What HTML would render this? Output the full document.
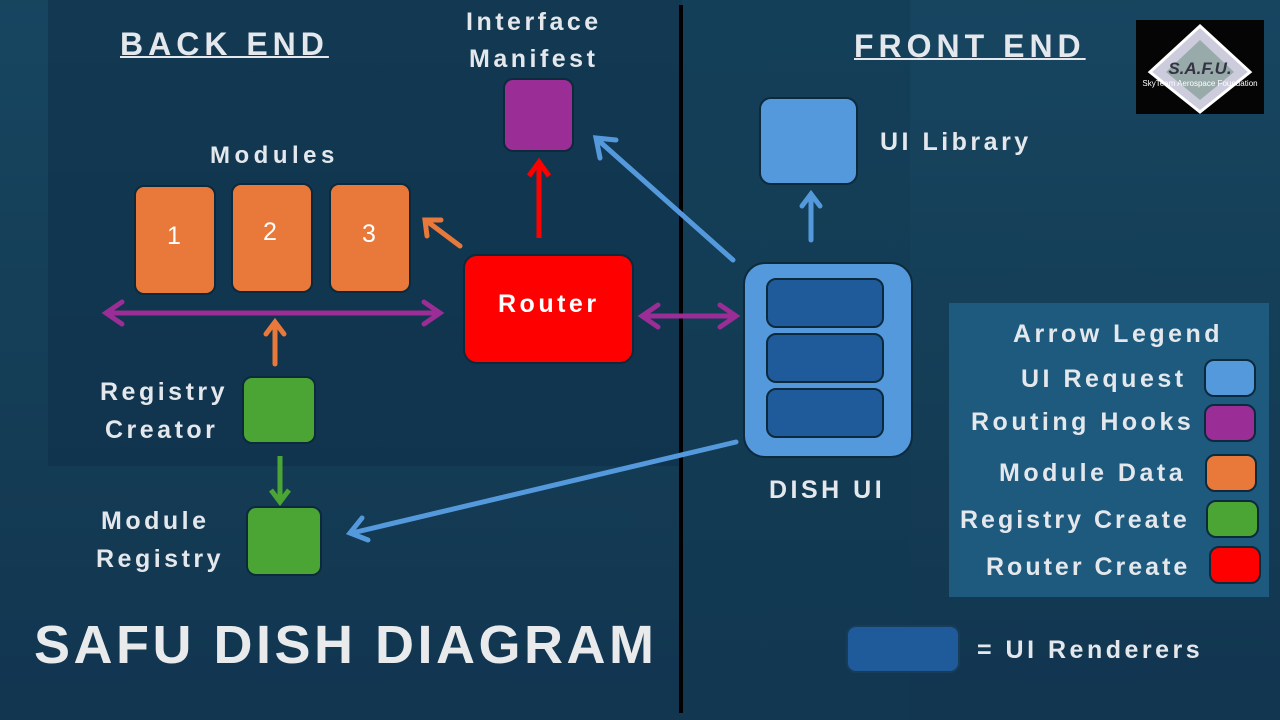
<!DOCTYPE html>
<html><head><style>
body{margin:0;width:1280px;height:720px;overflow:hidden;background:linear-gradient(180deg,#174560 0%,#143c55 60%,#123550 100%);font-family:"Liberation Sans",sans-serif;position:relative}
.a{position:absolute}
.t{position:absolute;color:#e4e8ec;font-weight:bold;font-size:25px;white-space:nowrap;letter-spacing:3.5px}
.b{position:absolute;border:2px solid #0c2a3c;border-radius:10px;box-sizing:border-box}
.o{background:#e8793a}.g{background:#4aa535}.p{background:#9b2d96}.r{background:#fe0000}.lb{background:#5599dd}.db{background:#1f5b9b}
</style></head><body>
<div class="a" style="left:48px;top:0;width:634px;height:466px;background:#0f3149;opacity:.6"></div>
<div class="a" style="left:680px;top:0;width:230px;height:720px;background:#123a52;opacity:.5"></div>
<div class="a" style="left:679px;top:5px;width:4px;height:708px;background:#000"></div>

<div class="t" style="left:120px;top:26px;font-size:32px;letter-spacing:5px;text-decoration:underline;text-decoration-thickness:2px">BACK END</div>
<div class="t" style="left:854px;top:28px;font-size:32px;letter-spacing:5px;text-decoration:underline;text-decoration-thickness:2px">FRONT END</div>
<div class="t" style="left:466px;top:8px">Interface</div>
<div class="t" style="left:469px;top:45px">Manifest</div>
<div class="t" style="left:210px;top:142px;font-size:24px;letter-spacing:4.5px">Modules</div>
<div class="t" style="left:880px;top:128px">UI Library</div>
<div class="t" style="left:100px;top:378px">Registry</div>
<div class="t" style="left:105px;top:416px">Creator</div>
<div class="t" style="left:101px;top:507px">Module</div>
<div class="t" style="left:96px;top:545px">Registry</div>
<div class="t" style="left:769px;top:476px">DISH UI</div>
<div class="t" style="left:34px;top:614px;font-size:54px;letter-spacing:3.5px;color:#e8eaec">SAFU DISH DIAGRAM</div>
<div class="t" style="left:977px;top:636px">= UI Renderers</div>

<div class="b p" style="left:503px;top:78px;width:71px;height:74px"></div>
<div class="b lb" style="left:759px;top:97px;width:99px;height:88px;border-radius:12px"></div>
<div class="b o" style="left:134px;top:185px;width:82px;height:110px"></div>
<div class="b o" style="left:231px;top:183px;width:82px;height:110px"></div>
<div class="b o" style="left:329px;top:183px;width:82px;height:110px"></div>
<div class="t" style="left:167px;top:222px;font-weight:normal;color:#fff">1</div>
<div class="t" style="left:263px;top:218px;font-weight:normal;color:#fff">2</div>
<div class="t" style="left:362px;top:220px;font-weight:normal;color:#fff">3</div>
<div class="b r" style="left:463px;top:254px;width:171px;height:110px;border-radius:14px"></div>
<div class="t" style="left:498px;top:290px;color:#fff">Router</div>
<div class="b g" style="left:242px;top:376px;width:74px;height:68px"></div>
<div class="b g" style="left:246px;top:506px;width:76px;height:70px"></div>
<div class="b lb" style="left:743px;top:262px;width:170px;height:196px;border-radius:22px"></div>
<div class="b db" style="left:766px;top:278px;width:118px;height:50px"></div>
<div class="b db" style="left:766px;top:333px;width:118px;height:50px"></div>
<div class="b db" style="left:766px;top:388px;width:118px;height:50px"></div>
<div class="b db" style="left:846px;top:625px;width:114px;height:48px;border-color:#173d5a"></div>

<div class="a" style="left:949px;top:303px;width:320px;height:294px;background:#1d5a7e"></div>
<div class="t" style="left:1013px;top:320px">Arrow Legend</div>
<div class="t" style="left:1021px;top:365px">UI Request</div>
<div class="t" style="left:971px;top:408px">Routing Hooks</div>
<div class="t" style="left:999px;top:459px">Module Data</div>
<div class="t" style="left:960px;top:506px;letter-spacing:3px">Registry Create</div>
<div class="t" style="left:986px;top:553px;letter-spacing:3px">Router Create</div>
<div class="b lb" style="left:1204px;top:359px;width:52px;height:38px"></div>
<div class="b p" style="left:1204px;top:404px;width:52px;height:38px"></div>
<div class="b o" style="left:1205px;top:454px;width:52px;height:38px"></div>
<div class="b g" style="left:1206px;top:500px;width:53px;height:38px"></div>
<div class="b r" style="left:1209px;top:546px;width:52px;height:38px"></div>

<div class="a" style="left:1136px;top:20px;width:128px;height:94px;background:#050505"></div>
<svg class="a" style="left:1136px;top:20px" width="128" height="94">
<polygon points="64,6 114,52 64,92 14,52" fill="#ccd" stroke="#fff" stroke-width="3"/>
<polygon points="64,20 98,52 64,80 30,52" fill="#9aa"/>
<text x="64" y="54" font-size="17" font-style="italic" font-weight="bold" fill="#334" text-anchor="middle" font-family="Liberation Sans">S.A.F.U.</text>
<text x="64" y="66" font-size="8" fill="#fff" text-anchor="middle" font-family="Liberation Sans">SkyTeam Aerospace Foundation</text>
</svg>

<svg class="a" style="left:0;top:0" width="1280" height="720" fill="none" stroke-width="5">
<g stroke="#9b2d96" stroke-linecap="round">
<line x1="108" y1="313" x2="438" y2="313"/><polyline points="122,302 106,313 122,324"/><polyline points="424,302 440,313 424,324"/>
<line x1="644" y1="316" x2="734" y2="316"/><polyline points="658,305 642,316 658,327"/><polyline points="720,305 736,316 720,327"/>
</g>
<g stroke="#e8793a" stroke-linecap="round">
<line x1="275" y1="364" x2="275" y2="324"/><polyline points="266,334 275,322 284,334"/>
<line x1="460" y1="246" x2="428" y2="222"/><polyline points="427,236 425,220 441,220"/>
</g>
<g stroke="#fe0000"><line x1="539" y1="238" x2="539" y2="164"/><polyline points="529,176 539,162 549,176"/></g>
<g stroke="#4aa535"><line x1="280" y1="456" x2="280" y2="500"/><polyline points="271,490 280,502 289,490"/></g>
<g stroke="#5599dd" stroke-linecap="round">
<line x1="733" y1="260" x2="598" y2="140"/><polyline points="600,158 596,138 616,140"/>
<line x1="811" y1="240" x2="811" y2="196"/><polyline points="802,206 811,194 820,206"/>
<line x1="736" y1="442" x2="352" y2="533"/><polyline points="362,518 350,533 368,540"/>
</g>
</svg>
</body></html>
